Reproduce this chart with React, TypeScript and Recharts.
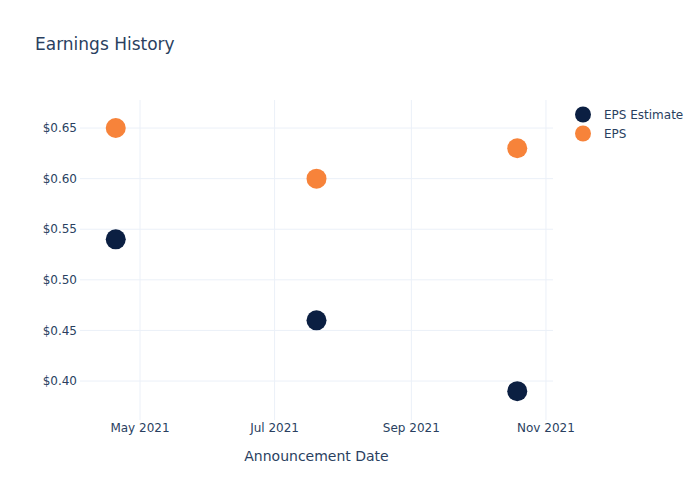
import { CartesianGrid, Scatter, ScatterChart, XAxis, YAxis } from 'recharts';

const announceDates = ['2021-04-20', '2021-07-20', '2021-10-19'];
const epsEstimate = [0.54, 0.46, 0.39];
const epsActual = [0.65, 0.6, 0.63];

const xTickDates = ['2021-05-01', '2021-07-01', '2021-09-01', '2021-11-01'];
const yTicks = [0.4, 0.45, 0.5, 0.55, 0.6, 0.65];

const MONTHS = ['Jan', 'Feb', 'Mar', 'Apr', 'May', 'Jun', 'Jul', 'Aug', 'Sep', 'Oct', 'Nov', 'Dec'];
const DAY = 86400000;

const toTime = (d: string) => Date.parse(d + 'T00:00:00Z');

const estimateData = announceDates.map((d, i) => ({ date: toTime(d), value: epsEstimate[i] }));
const epsData = announceDates.map((d, i) => ({ date: toTime(d), value: epsActual[i] }));

const xTicks = xTickDates.map(toTime);
const xDomain = [toTime('2021-05-01') - 27.2 * DAY, toTime('2021-11-01') + 3.2 * DAY];

const TEXT = '#2a3f5f';
const FONT = '"DejaVu Sans", Verdana, sans-serif';
const NAVY = '#0b1f42';
const ORANGE = '#f7833a';

const legendItems = [
    { name: 'EPS Estimate', color: NAVY },
    { name: 'EPS', color: ORANGE },
];

const dot = (color: string) => (props: any) => (
    <circle cx={props.cx} cy={props.cy} r={10} fill={color} />
);

export default function App() {
    return (
        <div
            style={{
                position: 'absolute',
                left: 0,
                top: 0,
                width: 700,
                height: 500,
                background: '#fff',
                fontFamily: FONT,
            }}
        >
            <div
                style={{
                    position: 'absolute',
                    left: 35,
                    top: 34,
                    fontSize: 17,
                    color: TEXT,
                    whiteSpace: 'nowrap',
                }}
            >
                Earnings History
            </div>
            <div
                style={{
                    position: 'absolute',
                    left: 573,
                    top: 105,
                    fontSize: 12,
                    color: TEXT,
                }}
            >
                {legendItems.map((item) => (
                    <div
                        key={item.name}
                        style={{ display: 'flex', alignItems: 'center', height: 19 }}
                    >
                        <svg width={20} height={19}>
                            <circle cx={10} cy={9.5} r={8} fill={item.color} />
                        </svg>
                        <span style={{ marginLeft: 11, whiteSpace: 'nowrap' }}>
                            {item.name}
                        </span>
                    </div>
                ))}
            </div>
            <ScatterChart
                width={700}
                height={500}
                margin={{ top: 100, right: 147, bottom: 0, left: 0 }}
            >
                <CartesianGrid stroke="#ebf0f8" strokeWidth={1} syncWithTicks />
                <XAxis
                    type="number"
                    dataKey="date"
                    domain={xDomain}
                    ticks={xTicks}
                    interval={0}
                    allowDataOverflow
                    tickFormatter={(t: number) => {
                        const d = new Date(t);
                        return `${MONTHS[d.getUTCMonth()]} ${d.getUTCFullYear()}`;
                    }}
                    height={80}
                    axisLine={false}
                    tickLine={false}
                    tickSize={0}
                    tickMargin={3}
                    tick={{ fill: TEXT, fontSize: 12, fontFamily: FONT }}
                    label={{
                        value: 'Announcement Date',
                        position: 'insideBottom',
                        offset: 39,
                        fill: TEXT,
                        fontSize: 14,
                        fontFamily: FONT,
                    }}
                />
                <YAxis
                    type="number"
                    dataKey="value"
                    domain={[0.3615, 0.6777]}
                    ticks={yTicks}
                    interval={0}
                    allowDataOverflow
                    tickFormatter={(v: number) => `$${v.toFixed(2)}`}
                    width={80}
                    axisLine={false}
                    tickLine={false}
                    tickSize={0}
                    tickMargin={3}
                    tick={{ fill: TEXT, fontSize: 12, fontFamily: FONT }}
                />
                <Scatter
                    name="EPS Estimate"
                    data={estimateData}
                    fill={NAVY}
                    shape={dot(NAVY)}
                    isAnimationActive={false}
                />
                <Scatter
                    name="EPS"
                    data={epsData}
                    fill={ORANGE}
                    shape={dot(ORANGE)}
                    isAnimationActive={false}
                />
            </ScatterChart>
        </div>
    );
}
